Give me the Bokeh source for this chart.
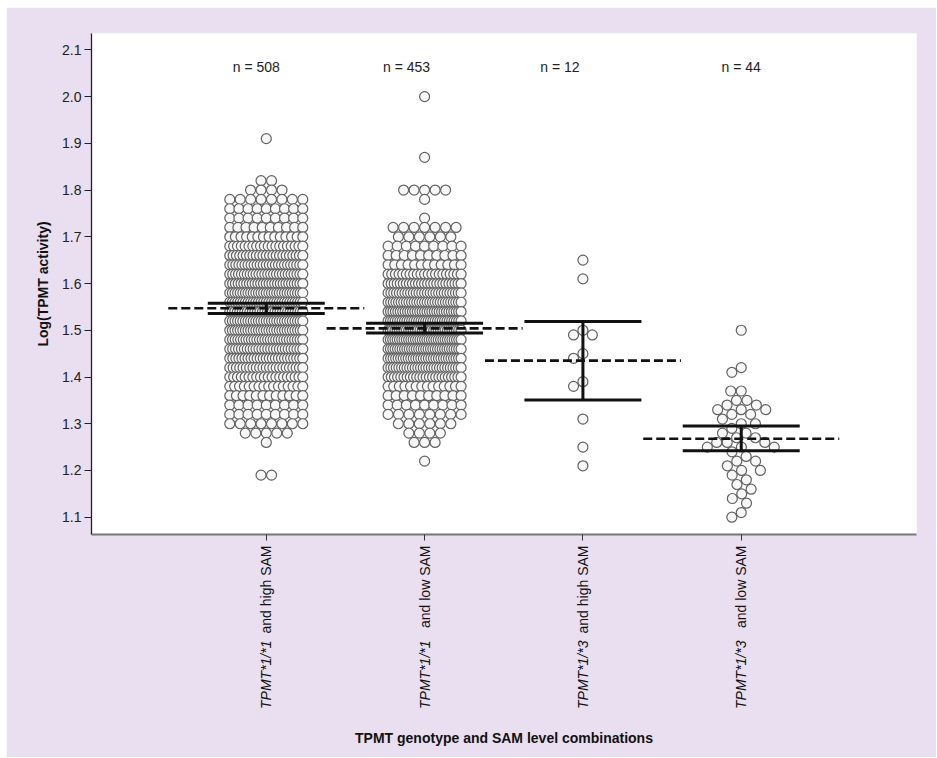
import math
import numpy as np
from bokeh.plotting import figure
from bokeh.models import Range1d, FixedTicker, NumeralTickFormatter, Label, LinearAxis
from bokeh.embed import file_html
from bokeh.resources import INLINE

# ------------------------------------------------------------------ data
categories = ["TPMT*1/*1 and high SAM", "TPMT*1/*1 and low SAM",
              "TPMT*1/*3 and high SAM", "TPMT*1/*3 and low SAM"]
genotype_labels = ["TPMT*1/*1", "TPMT*1/*1", "TPMT*1/*3", "TPMT*1/*3"]
sam_labels = ["and high SAM", "and low SAM", "and high SAM", "and low SAM"]
n_labels = ["n = 508", "n = 453", "n = 12", "n = 44"]
y_ticks = [1.1, 1.2, 1.3, 1.4, 1.5, 1.6, 1.7, 1.8, 1.9, 2.0, 2.1]
x_title = "TPMT genotype and SAM level combinations"
y_title = "Log(TPMT activity)"

# group 1 (TPMT*1/*1, high SAM): value levels and number of subjects at each
g1_levels = [1.91, 1.82, 1.80, 1.78, 1.76, 1.74, 1.72, 1.70, 1.68, 1.66, 1.64,
             1.62, 1.60, 1.58, 1.56, 1.54, 1.52, 1.50, 1.48, 1.46, 1.44, 1.42,
             1.40, 1.38, 1.36, 1.34, 1.32, 1.30, 1.28, 1.26, 1.19]
g1_counts = [1, 2, 4, 8, 9, 9, 10, 14, 20, 23, 25,
             26, 27, 29, 29, 30, 29, 29, 28, 26, 25, 23,
             20, 16, 12, 9, 9, 8, 5, 1, 2]

# group 2 (TPMT*1/*1, low SAM)
g2_levels = [2.00, 1.87, 1.80, 1.78, 1.74, 1.72, 1.70, 1.68, 1.66, 1.64,
             1.62, 1.60, 1.58, 1.56, 1.54, 1.52, 1.50, 1.48, 1.46, 1.44,
             1.42, 1.40, 1.38, 1.36, 1.34, 1.32, 1.30, 1.28, 1.26, 1.22]
g2_counts = [1, 1, 5, 1, 1, 7, 6, 9, 10, 12,
             21, 25, 27, 29, 31, 32, 33, 33, 32, 30,
             28, 24, 14, 10, 9, 8, 6, 4, 3, 1]

# group 3 (TPMT*1/*3, high SAM): individual values
g3_values = [1.65, 1.61, 1.50, 1.49, 1.49, 1.45, 1.44, 1.39, 1.38, 1.31, 1.25, 1.21]

# group 4 (TPMT*1/*3, low SAM): individual values
g4_values = [1.50, 1.42, 1.41, 1.37, 1.37, 1.35, 1.35, 1.34, 1.34, 1.33, 1.33,
             1.33, 1.32, 1.32, 1.31, 1.30, 1.30, 1.29, 1.28, 1.28, 1.27, 1.27,
             1.26, 1.26, 1.26, 1.25, 1.25, 1.25, 1.24, 1.23, 1.22, 1.22, 1.21,
             1.20, 1.20, 1.19, 1.18, 1.17, 1.16, 1.15, 1.14, 1.13, 1.11, 1.10]

# mean and 95% CI per group
means = [1.547, 1.504, 1.435, 1.268]
ci_low = [1.536, 1.494, 1.351, 1.242]
ci_high = [1.558, 1.515, 1.519, 1.295]

# ------------------------------------------------------------------ layout
W, H = 930, 750
ML, MR, MT, MB = 85, 20, 26, 223
FW, FH = W - ML - MR, H - MT - MB
X0, X1 = -0.104, 5.107
Y0, Y1 = 1.063, 2.135
PXU = FW / (X1 - X0)
PYU = FH / (Y1 - Y0)
BG = "#E9DFF0"
FONT = "Liberation Sans"


def row_layout(levels, counts, span=73.0, gap=10.5):
    xs, ys = [], []
    for v, c in zip(levels, counts):
        step = gap if c < 2 else min(gap, span / (c - 1))
        for i in range(c):
            xs.append((i - (c - 1) / 2.0) * step)
            ys.append(v)
    return xs, ys


def swarm(vals, d=10.5):
    order = sorted(range(len(vals)), key=lambda i: -vals[i])
    placed = []
    xs = [0.0] * len(vals)
    for i in order:
        yp = vals[i] * PYU
        cands = [0.0]
        forb = []
        for xj, yj in placed:
            dy = yp - yj
            if abs(dy) < d:
                w = math.sqrt(d * d - dy * dy)
                forb.append((xj - w, xj + w))
                cands += [xj - w, xj + w]
        ok = [c for c in cands if all(not (a + 1e-6 < c < b - 1e-6) for a, b in forb)]
        best = min(ok, key=lambda c: (round(abs(c), 3), c))
        xs[i] = best
        placed.append((best, yp))
    return xs


p = figure(width=W, height=H, output_backend="svg", toolbar_location=None,
           x_range=Range1d(X0, X1), y_range=Range1d(Y0, Y1),
           min_border_left=ML, min_border_right=MR,
           min_border_top=MT, min_border_bottom=MB, margin=(7, 0, 0, 6))
p.background_fill_color = "#FFFFFF"
p.border_fill_color = BG
p.outline_line_color = None
p.xgrid.grid_line_color = None
p.ygrid.grid_line_color = None

# points
cat_x = [1, 2, 3, 4]
all_x, all_y = [], []
for cx, (lv, ct) in zip(cat_x[:2], [(g1_levels, g1_counts), (g2_levels, g2_counts)]):
    ox, oy = row_layout(lv, ct)
    all_x += [cx + o / PXU for o in ox]
    all_y += oy
for cx, vals in zip(cat_x[2:], [g3_values, g4_values]):
    ox = swarm(vals)
    all_x += [cx + o / PXU for o in ox]
    all_y += list(vals)

p.scatter(all_x, all_y, marker="circle", size=10, fill_color="#F7F7F7",
          line_color="#626262", line_width=1.2)

# mean (dashed) and CI (solid)
cx = np.array(cat_x, dtype=float)
ci_half = 58.5 / PXU
mean_half = 98.0 / PXU
p.segment(x0=cx - mean_half, y0=means, x1=cx + mean_half, y1=means,
          line_color="#111111", line_width=2.6, line_dash="9 4")
p.segment(x0=cx - ci_half, y0=ci_low, x1=cx + ci_half, y1=ci_low,
          line_color="#111111", line_width=3)
p.segment(x0=cx - ci_half, y0=ci_high, x1=cx + ci_half, y1=ci_high,
          line_color="#111111", line_width=3)
p.segment(x0=cx, y0=ci_low, x1=cx, y1=ci_high, line_color="#111111", line_width=3)

# n labels
n_offsets = [-10, -18, -23, 0]
for cxi, txt, off in zip(cat_x, n_labels, n_offsets):
    p.add_layout(Label(x=cxi, y=2.063, x_offset=off, text=txt, text_font=FONT,
                       text_font_size="14px", text_color="#222222",
                       text_align="center", text_baseline="middle"))

# y axis
p.yaxis.ticker = FixedTicker(ticks=y_ticks)
p.yaxis.formatter = NumeralTickFormatter(format="0.0")
p.yaxis.minor_tick_line_color = None
p.yaxis.major_tick_in = 0
p.yaxis.major_tick_out = 7
p.yaxis.major_tick_line_color = "#222222"
p.yaxis.axis_line_color = "#222222"
p.yaxis.axis_line_width = 1.3
p.yaxis.major_tick_line_width = 1.2
p.yaxis.major_label_standoff = 3
p.yaxis.major_label_text_font = FONT
p.yaxis.major_label_text_font_size = "14px"
p.yaxis.major_label_text_color = "#222222"
p.yaxis.axis_label = y_title
p.yaxis.axis_label_text_font = FONT
p.yaxis.axis_label_text_font_size = "14px"
p.yaxis.axis_label_text_font_style = "bold"
p.yaxis.axis_label_text_color = "#111111"
p.yaxis.axis_label_standoff = 8

# x axis: SAM part of each category label (upright), next to the axis
xa = p.xaxis[0]
xa.ticker = FixedTicker(ticks=cat_x)
xa.major_label_overrides = {c: s for c, s in zip(cat_x, sam_labels)}
xa.major_label_orientation = math.pi / 2
xa.minor_tick_line_color = None
xa.major_tick_in = 0
xa.major_tick_out = 6
xa.major_tick_line_color = "#333333"
xa.axis_line_color = "#777777"
xa.axis_line_width = 2
xa.major_label_standoff = 5
xa.major_label_text_font = FONT
xa.major_label_text_font_size = "14px"
xa.major_label_text_color = "#111111"

# second axis below: genotype part (italic) and the axis title
xb = LinearAxis(ticker=FixedTicker(ticks=cat_x),
                major_label_overrides={c: g for c, g in zip(cat_x, genotype_labels)})
xb.major_label_orientation = math.pi / 2
xb.axis_line_color = None
xb.major_tick_line_color = None
xb.minor_tick_line_color = None
xb.major_tick_in = 0
xb.major_tick_out = 0
xb.major_label_standoff = 4
xb.major_label_text_font = FONT
xb.major_label_text_font_size = "14px"
xb.major_label_text_font_style = "italic"
xb.major_label_text_color = "#111111"
xb.axis_label = x_title
xb.axis_label_text_font = FONT
xb.axis_label_text_font_size = "14px"
xb.axis_label_text_font_style = "bold"
xb.axis_label_text_color = "#111111"
xb.axis_label_standoff = 18
p.add_layout(xb, "below")

open("out.html", "w").write(file_html(p, INLINE))
